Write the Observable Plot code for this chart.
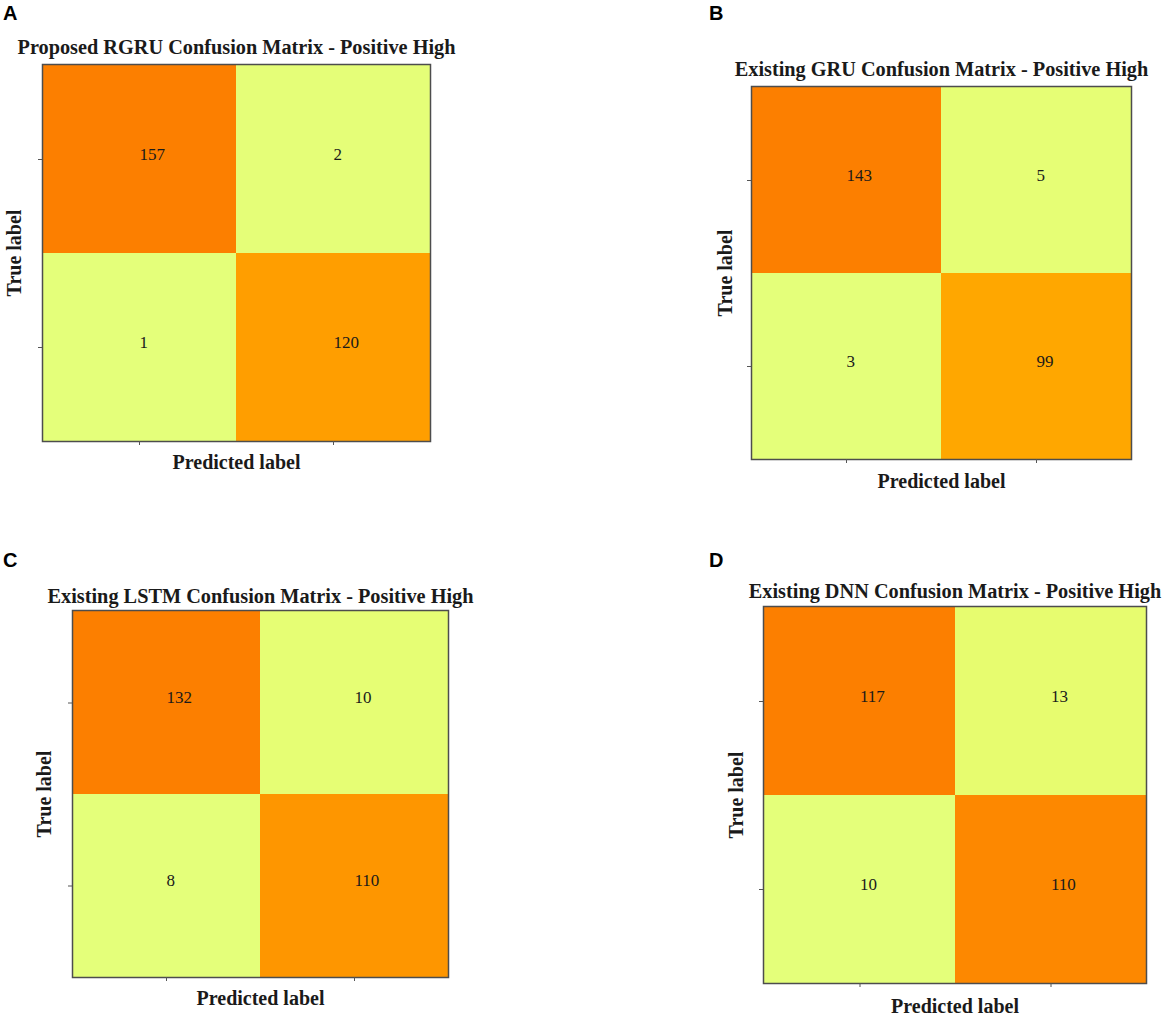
<!DOCTYPE html>
<html>
<head>
<meta charset="utf-8">
<script src="https://cdn.jsdelivr.net/npm/d3@7"></script>
<script src="https://cdn.jsdelivr.net/npm/@observablehq/plot@0.6"></script>
<style>
  html, body { margin: 0; padding: 0; background: #fff; }
  #root { position: relative; width: 1170px; height: 1018px; overflow: hidden; }
  .panel { position: absolute; }
  .letter { position: absolute; font-family: "Liberation Sans", Arial, sans-serif; font-weight: bold; font-size: 20px; line-height: 20px; color: #000; }
</style>
</head>
<body>
<div id="root"></div>
<script>
// ---- data ----
const panelLetters = ["A", "B", "C", "D"];
const panelTitles = [
  "Proposed RGRU Confusion Matrix - Positive High",
  "Existing GRU Confusion Matrix - Positive High",
  "Existing LSTM Confusion Matrix - Positive High",
  "Existing DNN Confusion Matrix - Positive High"
];
const predictedClasses = ["0", "1"];
const trueClasses = ["0", "1"];
// row-major: [true0/pred0, true0/pred1, true1/pred0, true1/pred1]
const valuesA = [157, 2, 1, 120];
const valuesB = [143, 5, 3, 99];
const valuesC = [132, 10, 8, 110];
const valuesD = [117, 13, 10, 110];
const wistia = ["#e4ff7a", "#ffe81a", "#ffbd00", "#ffa000", "#fc7f00"];
const xLabel = "Predicted label";
const yLabel = "True label";

// ---- layout (panel placement only) ----
const layouts = [
  {left: 0,   top: 0,   width: 480, height: 490, ml: 42, mt: 64, mr: 50, mb: 49, titleDy: -11, yLabDx: -28, xLabDy: 27, letterX: 3,   letterY: 3},
  {left: 690, top: 0,   width: 480, height: 500, ml: 61, mt: 86, mr: 39, mb: 41, titleDy: -11, yLabDx: -26, xLabDy: 28, letterX: 709, letterY: 3},
  {left: 0,   top: 540, width: 480, height: 478, ml: 72, mt: 70, mr: 32, mb: 41, titleDy: -8,  yLabDx: -28, xLabDy: 27, letterX: 3,   letterY: 550},
  {left: 690, top: 540, width: 480, height: 478, ml: 73, mt: 66, mr: 24, mb: 35, titleDy: -9,  yLabDx: -27, xLabDy: 29, letterX: 709, letterY: 550}
];

const allValues = [valuesA, valuesB, valuesC, valuesD];
const root = document.getElementById("root");
const serif = "'Liberation Serif', 'Times New Roman', serif";

allValues.forEach((vals, i) => {
  const L = layouts[i];
  const data = [];
  trueClasses.forEach((t, r) => predictedClasses.forEach((p, c) => {
    data.push({true: t, pred: p, value: vals[r * predictedClasses.length + c]});
  }));
  const chart = Plot.plot({
    width: L.width,
    height: L.height,
    marginLeft: L.ml, marginTop: L.mt, marginRight: L.mr, marginBottom: L.mb,
    style: {fontFamily: serif, background: "transparent", overflow: "visible"},
    x: {domain: predictedClasses, padding: 0, axis: null},
    y: {domain: trueClasses, padding: 0, axis: null},
    color: {type: "linear", domain: d3.extent(vals), interpolate: d3.piecewise(d3.interpolateRgb, wistia)},
    marks: [
      Plot.cell(data, {x: "pred", y: "true", fill: "value", inset: 0}),
      Plot.text(data, {x: "pred", y: "true", text: d => String(d.value), textAnchor: "start", lineAnchor: "bottom", fontSize: 17, fill: "#1a1a1a", fontFamily: serif}),
      Plot.frame({stroke: "#4d4d4d", strokeWidth: 1.5}),
      Plot.axisX({anchor: "bottom", tickSize: 4, tickFormat: () => "", label: null, stroke: "#555"}),
      Plot.axisY({anchor: "left", tickSize: 4, tickFormat: () => "", label: null, stroke: "#555"}),
      Plot.text([panelTitles[i]], {frameAnchor: "top", dy: L.titleDy, lineAnchor: "bottom", textAnchor: "middle", fontSize: 20.3, fontWeight: "bold", fill: "#1a1a1a", fontFamily: serif}),
      Plot.text([xLabel], {frameAnchor: "bottom", dy: L.xLabDy, lineAnchor: "bottom", textAnchor: "middle", fontSize: 20, fontWeight: "bold", fill: "#1a1a1a", fontFamily: serif}),
      Plot.text([yLabel], {frameAnchor: "left", dx: L.yLabDx, rotate: -90, lineAnchor: "middle", textAnchor: "middle", fontSize: 20, fontWeight: "bold", fill: "#1a1a1a", fontFamily: serif})
    ]
  });
  chart.classList.add("panel");
  chart.style.left = L.left + "px";
  chart.style.top = L.top + "px";
  root.appendChild(chart);

  const letter = document.createElement("div");
  letter.className = "letter";
  letter.textContent = panelLetters[i];
  letter.style.left = L.letterX + "px";
  letter.style.top = L.letterY + "px";
  root.appendChild(letter);
});
</script>
</body>
</html>
